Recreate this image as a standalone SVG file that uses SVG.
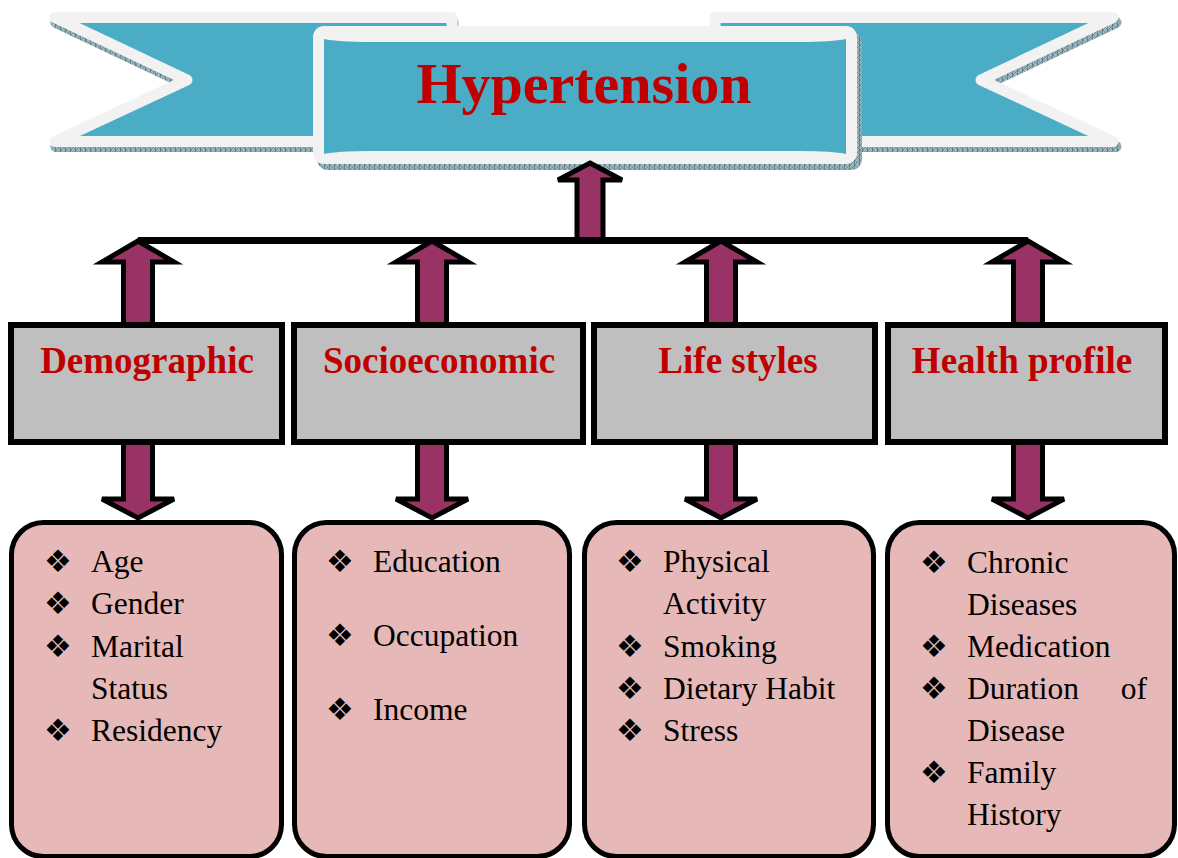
<svg xmlns="http://www.w3.org/2000/svg" width="1178" height="858" viewBox="0 0 1178 858">
<defs>
<pattern id="hatch" width="5" height="5" patternUnits="userSpaceOnUse">
<rect width="5" height="5" fill="#A3B8BE"/>
<path d="M0,0 L5,5 M5,0 L0,5" stroke="#5E8591" stroke-width="0.7"/>
<path d="M4.5,0 V5" stroke="#3F6A76" stroke-width="0.6"/>
</pattern>
<style>
.tail{fill:#4BACC6;stroke:#F2F2F2;stroke-width:11;stroke-linejoin:round}
.tailsh{fill:url(#hatch);stroke:url(#hatch);stroke-width:11;stroke-linejoin:round}
.arrow{fill:#993366;stroke:#000;stroke-width:5;stroke-linejoin:miter}
.cat{fill:#BFBFBF;stroke:#000;stroke-width:6}
.det{fill:#E6B8B7;stroke:#000;stroke-width:5}
.catt{font-family:"Liberation Serif","Times New Roman",serif;font-weight:bold;font-size:37px;fill:#C00000;text-anchor:middle}
.item{font-family:"Liberation Serif","Times New Roman",serif;font-size:31.5px;fill:#000}
.bul{font-family:"DejaVu Sans",sans-serif;font-size:31px;fill:#000}
</style>
</defs>

<g id="banner">
<path class="tailsh" transform="translate(1,5)" d="M55,17.5 H452 V141.5 H55 L187,80 Z"/>
<path class="tailsh" transform="translate(3,5)" d="M1113,17.5 H715 V141.5 H1113 L981,80 Z"/>
<path class="tail" d="M55,17.5 H452 V141.5 H55 L187,80 Z"/>
<path class="tail" d="M1113,17.5 H715 V141.5 H1113 L981,80 Z"/>
<rect x="317" y="32" width="545" height="138" rx="11" fill="url(#hatch)"/>
<rect x="313" y="26" width="544" height="138" rx="11" fill="#F2F2F2"/>
<path d="M324,39 Q338,42 370,42 H800 Q832,42 846,39 V154 Q832,151 800,151 H370 Q338,151 324,154 Z" fill="#4BACC6"/>
<text x="584" y="103" font-family="Liberation Serif, Times New Roman, serif" font-weight="bold" font-size="58" fill="#C00000" text-anchor="middle">Hypertension</text>
</g>

<g id="detail-demographic">
<rect class="det" x="11.5" y="522.5" width="270" height="334" rx="32"/>
<text class="bul" x="44" y="572">❖</text><text class="item" x="91" y="572">Age</text>
<text class="bul" x="44" y="614">❖</text><text class="item" x="91" y="614">Gender</text>
<text class="bul" x="44" y="657">❖</text><text class="item" x="91" y="657">Marital</text>
<text class="item" x="91" y="699">Status</text>
<text class="bul" x="44" y="741">❖</text><text class="item" x="91" y="741">Residency</text>
</g>

<g id="detail-socioeconomic">
<rect class="det" x="294.5" y="522.5" width="275" height="334" rx="32"/>
<text class="bul" x="326" y="572">❖</text><text class="item" x="373" y="572">Education</text>
<text class="bul" x="326" y="646">❖</text><text class="item" x="373" y="646">Occupation</text>
<text class="bul" x="326" y="720">❖</text><text class="item" x="373" y="720">Income</text>
</g>

<g id="detail-lifestyles">
<rect class="det" x="584.5" y="522.5" width="289" height="334" rx="32"/>
<text class="bul" x="616" y="572">❖</text><text class="item" x="663" y="572">Physical</text>
<text class="item" x="663" y="614">Activity</text>
<text class="bul" x="616" y="657">❖</text><text class="item" x="663" y="657">Smoking</text>
<text class="bul" x="616" y="699">❖</text><text class="item" x="663" y="699">Dietary Habit</text>
<text class="bul" x="616" y="741">❖</text><text class="item" x="663" y="741">Stress</text>
</g>

<g id="detail-health">
<rect class="det" x="887.5" y="522.5" width="287" height="334" rx="32"/>
<text class="bul" x="920" y="573">❖</text><text class="item" x="967" y="573">Chronic</text>
<text class="item" x="967" y="615">Diseases</text>
<text class="bul" x="920" y="657">❖</text><text class="item" x="967" y="657">Medication</text>
<text class="bul" x="920" y="699">❖</text><text class="item" x="967" y="699">Duration</text><text class="item" x="1147" y="699" text-anchor="end">of</text>
<text class="item" x="967" y="741">Disease</text>
<text class="bul" x="920" y="783">❖</text><text class="item" x="967" y="783">Family</text>
<text class="item" x="967" y="825">History</text>
</g>

<g id="connectors">
<path class="arrow" d="M590,163 L622,180 L603,180 L603,241 L577,241 L577,180 L558,180 Z"/>
<path class="arrow" d="M138,241 L174,262 L152.5,262 L152.5,499 L174,499 L138,518 L102,499 L123.5,499 L123.5,262 L102,262 Z"/>
<path class="arrow" d="M432,241 L468,262 L446.5,262 L446.5,499 L468,499 L432,518 L396,499 L417.5,499 L417.5,262 L396,262 Z"/>
<path class="arrow" d="M721,241 L757,262 L735.5,262 L735.5,499 L757,499 L721,518 L685,499 L706.5,499 L706.5,262 L685,262 Z"/>
<path class="arrow" d="M1028,241 L1064,262 L1042.5,262 L1042.5,499 L1064,499 L1028,518 L992,499 L1013.5,499 L1013.5,262 L992,262 Z"/>
<line x1="138" y1="240.5" x2="1028" y2="240.5" stroke="#000" stroke-width="7"/>
</g>

<g id="cat-demographic">
<rect class="cat" x="11" y="325" width="271" height="117"/>
<text class="catt" x="147" y="373">Demographic</text>
</g>
<g id="cat-socioeconomic">
<rect class="cat" x="294" y="325" width="289" height="117"/>
<text class="catt" x="439" y="373">Socioeconomic</text>
</g>
<g id="cat-lifestyles">
<rect class="cat" x="594" y="325" width="281" height="117"/>
<text class="catt" x="738" y="373">Life styles</text>
</g>
<g id="cat-health">
<rect class="cat" x="888" y="325" width="277" height="117"/>
<text class="catt" x="1022" y="373">Health profile</text>
</g>
</svg>
